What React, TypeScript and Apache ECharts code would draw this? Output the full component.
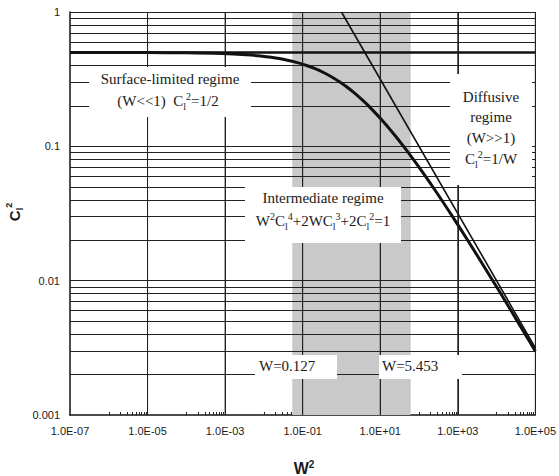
import React, { useEffect, useRef } from 'react';
import * as echarts from 'echarts';

// Intermediate regime curve  W^2 C^4 + 2 W C^3 + 2 C^2 = 1
const curveW2 = [1e-7, 1e-6, 1e-5, 1e-4, 8.33e-4, 3.47e-3, 8.15e-3, 0.02475, 0.07304, 0.1263, 0.2024, 0.376, 0.6548, 0.9276, 1.3011, 2.1436, 3.5436, 5.0, 12.7, 24.31, 40.0, 61.21, 99.9, 225.6, 732, 1800, 8010, 17005, 34358, 54611, 1e5];
const curveC2 = [0.4999, 0.4996, 0.4989, 0.4965, 0.49, 0.48, 0.47, 0.45, 0.42, 0.4, 0.38, 0.35, 0.32, 0.3, 0.28, 0.25, 0.22, 0.2, 0.15, 0.12, 0.1, 0.085, 0.07, 0.05, 0.03, 0.02, 0.01, 0.007, 0.005, 0.004, 0.00298];

// Surface-limited asymptote C^2 = 1/2
const surfaceW2 = [1e-7, 1e5];
const surfaceC2 = [0.5, 0.5];

// Diffusive asymptote C^2 = 1/W
const diffusiveW2 = [1, 1e5];
const diffusiveC2 = [1, 0.00316];

// Shaded intermediate band (W^2 range)
const bandW2 = [0.054, 61];

// Axis extents and tick labels
const xRange = [1e-7, 1e5];
const yRange = [0.001, 1];
const xLabelValues = [1e-7, 1e-5, 1e-3, 1e-1, 1e1, 1e3, 1e5];
const yLabelValues = [0.001, 0.01, 0.1, 1];
const xMinorTicks = [
  1e-6, 2e-6, 3e-6, 4e-6, 5e-6, 6e-6, 7e-6, 8e-6, 9e-6,
  1e-4, 2e-4, 3e-4, 4e-4, 5e-4, 6e-4, 7e-4, 8e-4, 9e-4,
  1e-2, 2e-2, 3e-2, 4e-2, 5e-2, 6e-2, 7e-2, 8e-2, 9e-2,
  1, 2, 3, 4, 5, 6, 7, 8, 9,
  100, 200, 300, 400, 500, 600, 700, 800, 900,
  1e4, 2e4, 3e4, 4e4, 5e4, 6e4, 7e4, 8e4, 9e4,
];

// Grid lines
const xGridLines = [1e-5, 1e-3, 1e-1, 1e1, 1e3, 1e5];
const yGridLines = [
  0.002, 0.003, 0.004, 0.005, 0.006, 0.007, 0.008, 0.009, 0.01,
  0.02, 0.03, 0.04, 0.05, 0.06, 0.07, 0.08, 0.09, 0.1,
  0.2, 0.3, 0.4, 0.6, 0.7, 0.8, 0.9, 1,
];

const SERIF = '"Liberation Serif", "Times New Roman", serif';
const SANS = '"Liberation Sans", Arial, sans-serif';
const INK = '#1a1a1a';
const GRID = '#222222';

const rich = {
  n: { fontFamily: SERIF, fontSize: 15, lineHeight: 20, fill: INK, color: INK, verticalAlign: 'middle' },
  sup: { fontFamily: SERIF, fontSize: 10, lineHeight: 10, fill: INK, color: INK, verticalAlign: 'top' },
  sub: { fontFamily: SERIF, fontSize: 10, lineHeight: 10, fill: INK, color: INK, verticalAlign: 'bottom' },
};

function box(x: number, y: number, w: number, h: number) {
  return { type: 'rect', silent: true, z: 10, shape: { x, y, width: w, height: h }, style: { fill: '#ffffff' } };
}
function label(text: string, x: number, y: number, align: string = 'center') {
  return {
    type: 'text', silent: true, z: 11, x, y,
    style: { text, rich, textAlign: align, textVerticalAlign: 'middle', fontFamily: SERIF, fontSize: 15, fill: INK },
  };
}

function toPairs(xs: number[], ys: number[]) {
  return xs.map((x, i) => [x, ys[i]]);
}

function formatExp(v: number) {
  const e = Math.round(Math.log10(v));
  const a = Math.abs(e);
  return '1.0E' + (e < 0 ? '-' : '+') + (a < 10 ? '0' + a : '' + a);
}

export default function App() {
  const ref = useRef<HTMLDivElement>(null);
  useEffect(() => {
    if (!ref.current) return;
    const chart = echarts.init(ref.current, null, { renderer: 'svg' });
    const hGrid = yGridLines.map((v) => ({ coords: [[xRange[0], v], [xRange[1], v]] }));
    const vGrid = xGridLines.map((v) => ({ coords: [[v, yRange[0]], [v, yRange[1]]] }));
    const graphics: any[] = [
      box(89, 67, 162, 50),
      label('{n|Surface-limited regime}', 170, 79),
      label('{n|(W<<1)  C}{sub|l}{sup|2}{n|=1/2}', 168, 101),
      box(450, 74, 82, 111),
      label('{n|Diffusive}', 491, 97),
      label('{n|regime}', 491, 117),
      label('{n|(W>>1)}', 491, 138),
      label('{n|C}{sub|l}{sup|2}{n|=1/W}', 491, 159),
      box(245, 187, 156, 56),
      label('{n|Intermediate regime}', 323, 198),
      label('{n|W}{sup|2}{n|C}{sub|l}{sup|4}{n|+2WC}{sub|l}{sup|3}{n|+2C}{sub|l}{sup|2}{n|=1}', 323, 221),
      box(255, 355, 82, 24),
      label('{n|W=0.127}', 259, 366, 'left'),
      box(379, 355, 83, 24),
      label('{n|W=5.453}', 382, 366, 'left'),
      {
        type: 'text', silent: true, x: 304, y: 468,
        style: {
          text: '{b|W}{s|2}', textAlign: 'center', textVerticalAlign: 'middle',
          rich: {
            b: { fontFamily: SANS, fontWeight: 'bold', fontSize: 16, lineHeight: 18, fill: INK },
            s: { fontFamily: SANS, fontWeight: 'bold', fontSize: 10, lineHeight: 10, fill: INK, verticalAlign: 'top' },
          },
        },
      },
      {
        type: 'text', silent: true, x: 14, y: 212, rotation: Math.PI / 2,
        style: {
          text: '{b|C}{d|l}{s|2}', textAlign: 'center', textVerticalAlign: 'middle',
          rich: {
            b: { fontFamily: SANS, fontWeight: 'bold', fontSize: 15, lineHeight: 20, fill: INK },
            s: { fontFamily: SANS, fontWeight: 'bold', fontSize: 9, lineHeight: 9, fill: INK, verticalAlign: 'top' },
            d: { fontFamily: SANS, fontWeight: 'bold', fontSize: 9, lineHeight: 9, fill: INK, verticalAlign: 'bottom' },
          },
        },
      },
    ];
    const option: any = {
      animation: false,
      backgroundColor: '#ffffff',
      grid: { left: 70, right: 20, top: 12, bottom: 61 },
      xAxis: {
        type: 'log', logBase: 10, min: xRange[0], max: xRange[1],
        axisLine: { show: true, lineStyle: { color: '#111', width: 1.5 } },
        axisTick: { show: true, inside: true, length: 3, customValues: xMinorTicks, lineStyle: { color: GRID, width: 1 } },
        splitLine: { show: false },
        axisLabel: {
          margin: 10, fontFamily: SANS, fontSize: 11, color: INK,
          customValues: xLabelValues,
          formatter: (v: number) => formatExp(v),
        },
      },
      yAxis: {
        type: 'log', logBase: 10, min: yRange[0], max: yRange[1],
        axisLine: { show: true, lineStyle: { color: '#111', width: 1.5 } },
        axisTick: { show: false },
        splitLine: { show: false },
        axisLabel: {
          margin: 10, fontFamily: SANS, fontSize: 11, color: INK,
          customValues: yLabelValues,
          formatter: (v: number) => String(Number(Number(v).toPrecision(1))),
        },
      },
      series: [
        {
          type: 'line', data: [], z: 1, silent: true,
          markArea: {
            silent: true,
            itemStyle: { color: '#c9c9c9' },
            data: [[{ xAxis: bandW2[0] }, { xAxis: bandW2[1] }]],
          },
        },
        {
          type: 'lines', coordinateSystem: 'cartesian2d', z: 2, silent: true,
          lineStyle: { color: GRID, width: 1, opacity: 1 },
          data: hGrid,
        },
        {
          type: 'lines', coordinateSystem: 'cartesian2d', z: 2, silent: true,
          lineStyle: { color: GRID, width: 1, opacity: 1 },
          data: vGrid,
        },
        {
          type: 'line', z: 3, silent: true, symbol: 'none',
          data: toPairs(surfaceW2, surfaceC2),
          lineStyle: { color: '#111', width: 2.5 },
        },
        {
          type: 'line', z: 3, silent: true, symbol: 'none',
          data: toPairs(diffusiveW2, diffusiveC2),
          lineStyle: { color: '#111', width: 1.6 },
        },
        {
          type: 'line', z: 4, silent: true, symbol: 'none', smooth: 0.3,
          data: toPairs(curveW2, curveC2),
          lineStyle: { color: '#111', width: 3 },
        },
      ],
      graphic: graphics,
    };
    chart.setOption(option);
    // Vertical grid lines, positioned through the chart's own log scale
    const vLines = xGridLines.map((v) => {
      const p = chart.convertToPixel({ gridIndex: 0 }, [v, yRange[0]]) as number[];
      const q = chart.convertToPixel({ gridIndex: 0 }, [v, yRange[1]]) as number[];
      return {
        type: 'line', silent: true, z: 9,
        shape: { x1: p[0], y1: p[1], x2: q[0], y2: q[1] },
        style: { stroke: GRID, lineWidth: 1 },
      };
    });
    chart.setOption({ graphic: [...graphics, ...vLines] });
    return () => chart.dispose();
  }, []);
  return <div ref={ref} style={{ position: 'absolute', left: 0, top: 0, width: 559, height: 476 }} />;
}
